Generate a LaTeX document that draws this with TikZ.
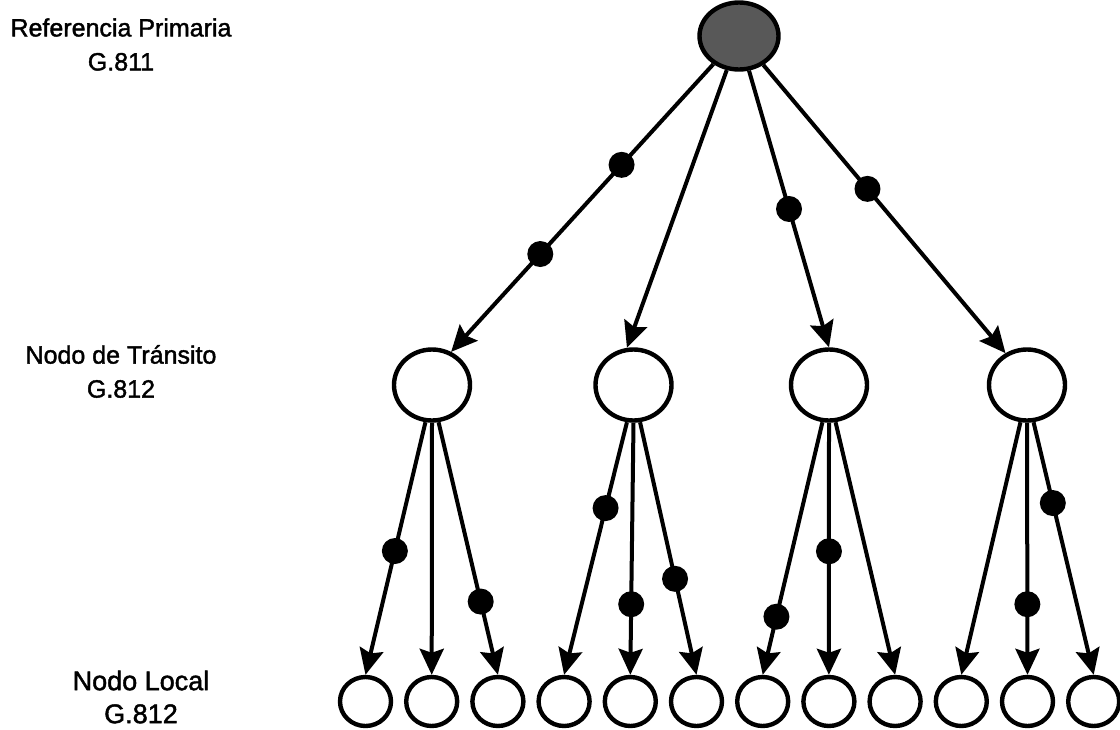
\documentclass[tikz,border=0pt]{standalone}
\usepackage{fontspec}
\setmainfont{Liberation Sans}
\newfontfamily\levelfont{Liberation Sans}[FakeBold=1.6]
\usetikzlibrary{shapes.geometric,arrows.meta}
\definecolor{refgray}{RGB}{88,88,88}
\begin{document}
\begin{tikzpicture}[x=1pt,y=-1pt,
  every node/.style={inner sep=0pt},
  rootnode/.style={ellipse, draw, line width=4.4pt, fill=refgray,
    minimum width=79pt, minimum height=67pt},
  transit/.style={ellipse, draw, line width=4.4pt, fill=white,
    minimum width=76pt, minimum height=71pt},
  localnode/.style={ellipse, draw, line width=4.4pt, fill=white,
    minimum width=51pt, minimum height=49pt},
  link/.style={line width=4pt, -{Stealth[length=26pt,width=24pt,inset=4pt]}},
  tdot/.style={circle, fill=black, minimum size=26pt},
  lbl/.style={align=center, font=\levelfont\fontsize{25}{34}\selectfont}
]
\useasboundingbox (0,0) rectangle (1120,729);

% level labels
\node[lbl] (lab1) at (121,44.5) {Referencia Primaria\\G.811};
\node[lbl] (lab2) at (121,371.5) {Nodo de Tránsito\\G.812};
\node[lbl, font=\levelfont\fontsize{27}{33}\selectfont] (lab3) at (141,697) {Nodo Local\\G.812};

% primary reference
\node[rootnode] (root) at (739,36) {};

% transit nodes
\node[transit] (t1) at (432,385) {};
\node[transit] (t2) at (633.5,385) {};
\node[transit] (t3) at (829,385) {};
\node[transit] (t4) at (1027,385) {};

% local nodes
\foreach \i in {1,...,12} {
  \node[localnode] (l\i) at ({365.5+66.2*(\i-1)},701.5) {};
}

% primary -> transit
\draw[link] (root) -- (t1.60) node[tdot,pos=0.35] (d1) {} node[tdot,pos=0.66] (d2) {};
\draw[link] (root) -- (t2.100);
\draw[link] (root) -- (t3.north) node[tdot,pos=0.50] (d3) {};
\draw[link] (root) -- (t4.124) node[tdot,pos=0.43] (d4) {};

% transit -> local
\draw[link] (t1.-100) -- (l1.north) node[tdot,pos=0.51] (d5) {};
\draw[link] (t1.south) -- (l2.north);
\draw[link] (t1.-80) -- (l3.north) node[tdot,pos=0.71] (d6) {};

\draw[link] (t2.-100) -- (l4.north) node[tdot,pos=0.34] (d7) {};
\draw[link] (t2.south) -- (l5.north) node[tdot,pos=0.72] (d8) {};
\draw[link] (t2.-80) -- (l6.north) node[tdot,pos=0.62] (d9) {};

\draw[link] (t3.-100) -- (l7.north) node[tdot,pos=0.77] (d10) {};
\draw[link] (t3.south) -- (l8.north) node[tdot,pos=0.51] (d11) {};
\draw[link] (t3.-80) -- (l9.north);

\draw[link] (t4.-100) -- (l10.north);
\draw[link] (t4.south) -- (l11.north) node[tdot,pos=0.72] (d12) {};
\draw[link] (t4.-80) -- (l12.north) node[tdot,pos=0.32] (d13) {};
\end{tikzpicture}
\end{document}
